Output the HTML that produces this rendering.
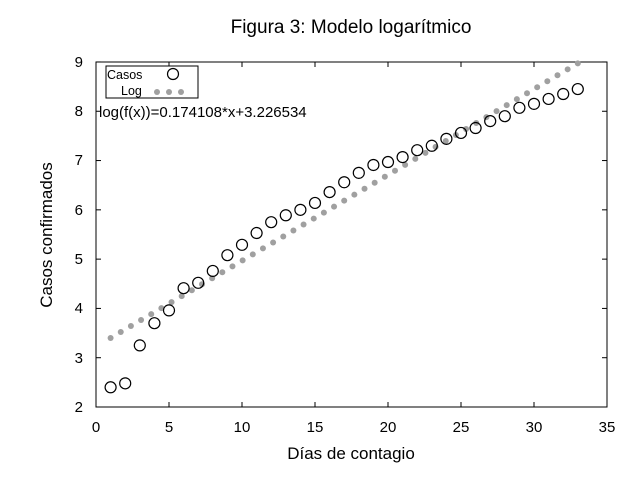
<!DOCTYPE html>
<html><head><meta charset="utf-8"><style>
body{margin:0;background:#fff;}
svg{display:block;font-family:"Liberation Sans",sans-serif;}
</style></head><body>
<svg id="s" width="640" height="480" viewBox="0 0 640 480">
<text x="351" y="33" font-size="19" text-anchor="middle">Figura 3: Modelo logarítmico</text>
<rect x="96" y="62" width="511" height="345" fill="none" stroke="#000" stroke-width="1"/>
<g font-size="15" text-anchor="end">
<text x="83" y="412">2</text><text x="83" y="363">3</text><text x="83" y="313">4</text><text x="83" y="264">5</text><text x="83" y="215">6</text><text x="83" y="165">7</text><text x="83" y="116">8</text><text x="83" y="67">9</text>
</g>
<g font-size="15" text-anchor="middle">
<text x="96" y="432">0</text><text x="169" y="432">5</text><text x="242" y="432">10</text><text x="315" y="432">15</text><text x="388" y="432">20</text><text x="461" y="432">25</text><text x="534" y="432">30</text><text x="607" y="432">35</text>
</g>
<text x="351" y="459" font-size="17" text-anchor="middle">Días de contagio</text>
<text transform="translate(52,235) rotate(-90)" font-size="17" text-anchor="middle">Casos confirmados</text>
<g id="ticks" stroke="#000" stroke-width="1"></g>
<g id="logd" fill="#a0a0a0"></g>
<g id="cas" fill="none" stroke="#000" stroke-width="1.2"></g>
<rect x="106" y="66" width="92" height="32" fill="#fff" stroke="#000"/>
<text x="107" y="79" font-size="12.5">Casos</text>
<text x="121" y="95" font-size="12.5">Log</text>
<circle cx="173" cy="74" r="5.5" fill="none" stroke="#000" stroke-width="1.2"/>
<circle cx="157" cy="92" r="3" fill="#a0a0a0"/><circle cx="169" cy="92" r="3" fill="#a0a0a0"/><circle cx="181" cy="92" r="3" fill="#a0a0a0"/>
<text x="99" y="117" font-size="15">log(f(x))=0.174108*x+3.226534</text>
</svg>
<script>
var X=function(v){return 96+v*14.6},Y=function(v){return 407-(v-2)*49.29};
var t=document.getElementById('ticks'),h='';
for(var i=0;i<=7;i++){var y=Y(2+i);h+='<line x1="96" x2="101" y1="'+y+'" y2="'+y+'"/><line x1="602" x2="607" y1="'+y+'" y2="'+y+'"/>';}
for(var i=0;i<=35;i+=5){var x=X(i);h+='<line x1="'+x+'" x2="'+x+'" y1="407" y2="402"/><line x1="'+x+'" x2="'+x+'" y1="62" y2="67"/>';}
t.innerHTML=h;
h='';var N=47;for(var k=0;k<N;k++){var v=1+32*k/(N-1);var y=Y(0.174108*v+3.226534);if(y>=61)h+='<circle cx="'+X(v)+'" cy="'+y+'" r="3"/>';}
document.getElementById('logd').innerHTML=h;
var d=[2.40,2.48,3.25,3.70,3.96,4.41,4.52,4.76,5.08,5.29,5.53,5.75,5.89,6.0,6.14,6.36,6.56,6.75,6.91,6.97,7.07,7.21,7.30,7.44,7.56,7.66,7.80,7.90,8.07,8.15,8.25,8.35,8.45];
h='';d.forEach(function(v,i){h+='<circle cx="'+X(i+1)+'" cy="'+Y(v)+'" r="5.5"/>';});
document.getElementById('cas').innerHTML=h;
</script>
</body></html>
